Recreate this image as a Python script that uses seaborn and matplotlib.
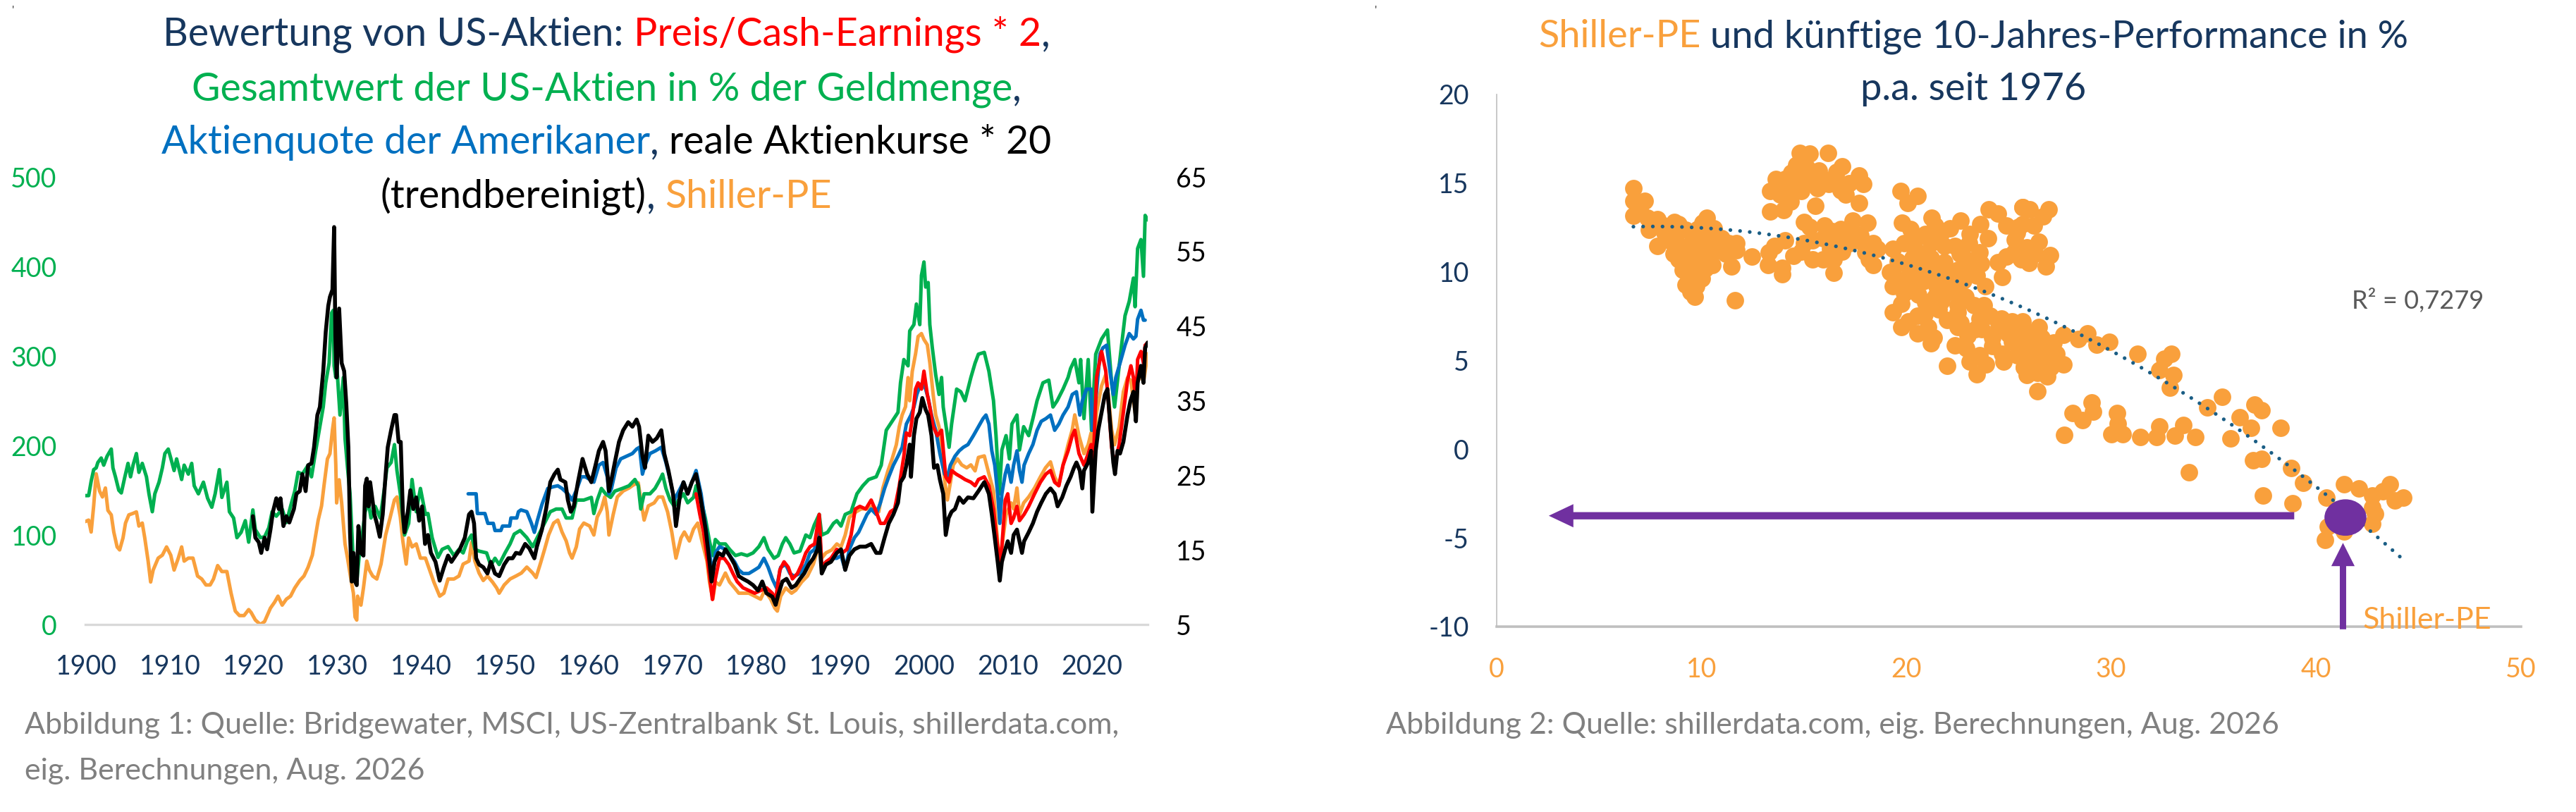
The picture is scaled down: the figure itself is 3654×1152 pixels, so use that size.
import numpy as np
import matplotlib
matplotlib.use("Agg")
import matplotlib.pyplot as plt
from matplotlib.patches import Ellipse
import seaborn as sns

sns.set_theme(style="white")
plt.rcParams['font.family'] = ['Lato', 'DejaVu Sans']
plt.rcParams['axes.unicode_minus'] = False

NAVY = '#17375E'
RED = '#FF0000'
GREEN = '#00B050'
BLUE = '#0070C0'
ORANGE = '#F9A03C'
PURPLE = '#7030A0'
TEAL = '#1B5E85'
GREY = '#808080'

# --- Abbildung 1: Bewertungskennzahlen (linke Achse 0-500, Shiller-PE rechte Achse 5-65) ---
green_years = [1899.9, 1900.3, 1900.6, 1900.9, 1901.2, 1901.4, 1901.8, 1902.1, 1902.5, 1903.0, 1903.2, 1903.5,
               1903.9, 1904.2, 1904.6, 1905.0, 1905.3, 1905.6, 1906.0, 1906.3, 1906.7, 1907.2, 1907.5, 1907.9,
               1908.2, 1908.7, 1909.1, 1909.4, 1909.8, 1910.1, 1910.5, 1910.8, 1911.4, 1911.7, 1912.2, 1912.6,
               1912.9, 1913.4, 1914.0, 1914.5, 1915.0, 1915.4, 1915.9, 1916.2, 1916.8, 1917.1, 1917.6, 1918.0,
               1918.5, 1919.0, 1919.4, 1919.9, 1920.2, 1920.8, 1921.3, 1921.8, 1922.2, 1922.7, 1923.4, 1923.9,
               1924.4, 1924.9, 1925.3, 1925.8, 1926.5, 1926.9, 1927.4, 1927.9, 1928.3, 1928.6, 1929.0, 1929.3,
               1929.5, 1929.6, 1929.8, 1929.9, 1930.3, 1930.7, 1930.9, 1931.2, 1931.5, 1931.9, 1932.3, 1932.6,
               1933.0, 1933.3, 1933.7, 1934.0, 1934.5, 1935.1, 1935.6, 1935.9, 1936.4, 1936.8, 1937.1, 1937.5,
               1938.0, 1938.5, 1938.9, 1939.4, 1939.9, 1940.5, 1940.8, 1941.3, 1942.0, 1942.5, 1943.2, 1943.9,
               1944.5, 1945.0, 1945.5, 1946.0, 1946.4, 1946.9, 1947.8, 1948.3, 1948.8, 1949.3, 1950.0, 1950.6,
               1951.1, 1951.8, 1952.6, 1953.3, 1954.0, 1954.7, 1955.4, 1956.1, 1956.8, 1957.3, 1958.0, 1958.5,
               1959.4, 1960.3, 1960.6, 1961.0, 1961.5, 1962.0, 1962.6, 1963.1, 1964.0, 1964.8, 1965.5, 1965.9,
               1966.2, 1966.6, 1967.3, 1967.9, 1968.5, 1968.8, 1969.2, 1969.7, 1970.2, 1970.7, 1971.3, 1971.8,
               1972.5, 1972.8, 1973.4, 1973.9, 1974.4, 1974.8, 1975.1, 1975.6, 1976.3, 1976.8, 1977.5, 1978.2,
               1978.9, 1979.6, 1980.3, 1980.9, 1981.4, 1982.1, 1982.6, 1983.1, 1983.5, 1984.0, 1984.5, 1985.2,
               1985.9, 1986.4, 1986.9, 1987.5, 1987.8, 1988.5, 1989.2, 1989.6, 1990.1, 1990.6, 1991.3, 1992.0,
               1992.7, 1993.4, 1994.3, 1994.9, 1995.5, 1996.2, 1996.9, 1997.2, 1997.6, 1998.1, 1998.3, 1998.8,
               1999.1, 1999.5, 1999.7, 2000.0, 2000.2, 2000.5, 2000.7, 2001.0, 2001.4, 2001.8, 2002.1, 2002.3,
               2002.6, 2003.0, 2003.3, 2003.9, 2004.4, 2004.9, 2005.6, 2006.1, 2006.5, 2007.2, 2007.75, 2008.3,
               2008.6, 2009.0, 2009.3, 2009.8, 2010.2, 2010.5, 2011.1, 2011.4, 2011.9, 2012.5, 2013.0, 2013.5,
               2014.2, 2014.9, 2015.4, 2015.9, 2016.6, 2017.2, 2017.5, 2018.0, 2018.5, 2018.7, 2019.1, 2019.6,
               2020.0, 2020.5, 2021.2, 2021.9, 2022.4, 2022.75, 2023.3, 2024.0, 2024.5, 2025.0, 2025.2, 2025.5,
               2025.9, 2026.2, 2026.4, 2026.7]
green_vals = [144, 144, 160, 173, 175, 181, 186, 178, 188, 196, 175, 165,
              150, 147, 164, 180, 165, 178, 191, 170, 180, 165, 146, 126,
              146, 159, 175, 191, 196, 186, 172, 185, 162, 178, 168, 180,
              155, 146, 159, 141, 131, 146, 173, 142, 159, 126, 119, 97,
              103, 116, 92, 128, 106, 97, 98, 108, 126, 121, 129, 114,
              132, 149, 170, 168, 178, 165, 194, 221, 243, 270, 292, 348,
              351, 289, 276, 292, 234, 276, 208, 175, 146, 67, 48, 77,
              103, 126, 136, 119, 132, 119, 152, 175, 181, 201, 172, 146,
              100, 113, 162, 126, 152, 123, 124, 97, 75, 84, 87, 77,
              84, 80, 93, 100, 84, 82, 80, 66, 74, 67, 80, 90,
              101, 105, 97, 87, 100, 113, 126, 129, 129, 119, 119, 139,
              139, 142, 124, 139, 152, 146, 142, 149, 152, 155, 162, 155,
              129, 146, 146, 152, 162, 168, 152, 139, 132, 139, 146, 136,
              142, 155, 139, 119, 93, 77, 95, 90, 90, 84, 77, 79,
              77, 80, 87, 97, 84, 74, 77, 90, 97, 90, 80, 82,
              100, 97, 111, 123, 100, 103, 113, 116, 110, 123, 126, 146,
              155, 162, 165, 178, 217, 227, 237, 270, 296, 289, 328, 335,
              358, 335, 390, 405, 377, 382, 335, 309, 279, 257, 276, 243,
              224, 198, 224, 263, 260, 250, 276, 292, 302, 304, 283, 250,
              211, 146, 195, 211, 185, 224, 234, 195, 221, 211, 230, 250,
              270, 273, 243, 250, 263, 276, 286, 296, 270, 296, 230, 296,
              217, 302, 319, 329, 270, 243, 289, 345, 361, 387, 355, 420,
              430, 389, 457, 452]

shiller_years = [1899.9, 1900.3, 1900.6, 1900.9, 1901.2, 1901.6, 1901.95, 1902.3, 1902.6, 1903.0, 1903.3, 1903.7,
                 1904.0, 1904.4, 1904.7, 1905.1, 1905.6, 1906.0, 1906.3, 1906.7, 1907.0, 1907.4, 1907.7, 1908.0,
                 1908.6, 1909.1, 1909.6, 1910.1, 1910.5, 1911.0, 1911.4, 1911.7, 1912.2, 1912.75, 1913.3, 1913.8,
                 1914.3, 1914.8, 1915.2, 1915.7, 1916.2, 1916.8, 1917.3, 1917.8, 1918.3, 1918.85, 1919.4, 1919.7,
                 1920.2, 1920.8, 1921.3, 1922.0, 1922.5, 1922.9, 1923.4, 1923.9, 1924.4, 1924.9, 1925.5, 1926.0,
                 1926.5, 1927.0, 1927.4, 1927.7, 1928.1, 1928.4, 1928.8, 1929.1, 1929.4, 1929.6, 1929.8, 1929.9,
                 1930.2, 1930.5, 1930.9, 1931.2, 1931.6, 1931.9, 1932.1, 1932.3, 1932.4, 1932.8, 1933.1, 1933.5,
                 1933.8, 1934.2, 1934.7, 1935.2, 1935.75, 1936.3, 1936.8, 1937.1, 1937.5, 1937.8, 1938.2, 1938.5,
                 1938.9, 1939.4, 1939.9, 1940.5, 1941.0, 1941.5, 1942.2, 1942.7, 1943.2, 1943.9, 1944.5, 1945.0,
                 1945.7, 1946.0, 1946.4, 1946.9, 1947.4, 1947.9, 1948.5, 1949.0, 1949.3, 1949.9, 1950.6, 1951.3,
                 1951.95, 1952.6, 1953.3, 1953.7, 1954.2, 1954.7, 1955.2, 1955.8, 1956.3, 1956.8, 1957.3, 1957.7,
                 1958.0, 1958.5, 1958.9, 1959.4, 1960.1, 1960.6, 1961.0, 1961.5, 1961.9, 1962.2, 1962.4, 1962.9,
                 1963.4, 1964.1, 1964.8, 1965.3, 1965.9, 1966.2, 1966.6, 1967.1, 1967.8, 1968.3, 1968.8, 1969.4,
                 1969.9, 1970.4, 1971.0, 1971.4, 1972.0, 1972.5, 1973.0, 1973.5, 1974.1, 1974.4, 1974.8, 1975.1,
                 1975.6, 1976.3, 1976.8, 1977.4, 1977.9, 1978.4, 1979.1, 1979.8, 1980.5, 1981.0, 1981.7, 1982.2,
                 1982.5, 1982.9, 1983.5, 1984.2, 1984.7, 1985.4, 1986.1, 1986.8, 1987.3, 1987.5, 1987.8, 1988.3,
                 1989.0, 1989.6, 1990.1, 1990.6, 1991.1, 1991.9, 1992.5, 1993.2, 1993.9, 1994.6, 1995.1, 1995.7,
                 1996.2, 1996.7, 1997.05, 1997.4, 1997.8, 1998.1, 1998.3, 1998.6, 1999.0, 1999.3, 1999.7, 2000.0,
                 2000.4, 2000.7, 2001.1, 2001.4, 2001.8, 2002.1, 2002.5, 2002.8, 2003.15, 2003.5, 2004.0, 2004.5,
                 2005.1, 2005.6, 2006.1, 2006.5, 2007.2, 2007.75, 2008.3, 2008.6, 2009.0, 2009.3, 2009.8, 2010.4,
                 2010.7, 2011.1, 2011.4, 2011.9, 2012.5, 2013.2, 2013.9, 2014.5, 2015.1, 2015.6, 2016.1, 2016.6,
                 2017.2, 2017.7, 2018.0, 2018.5, 2019.1, 2019.6, 2019.95, 2020.3, 2020.6, 2021.2, 2021.7, 2022.0,
                 2022.4, 2022.75, 2023.3, 2023.8, 2024.3, 2024.7, 2025.0, 2025.3, 2025.5, 2025.9, 2026.2, 2026.7]
shiller_vals = [18.8, 19.0, 17.4, 20.9, 25.2, 22.9, 22.1, 23.3, 20.3, 19.7, 17.4, 15.4,
                15.0, 16.6, 18.6, 19.7, 19.9, 20.1, 18.2, 18.6, 16.6, 13.5, 10.7, 12.3,
                13.9, 14.3, 15.4, 14.3, 12.3, 13.9, 15.4, 13.5, 13.9, 13.9, 11.5, 11.1,
                10.3, 10.3, 11.1, 12.9, 12.1, 12.1, 9.2, 6.8, 6.2, 6.2, 7.0, 6.6,
                5.6, 5.0, 5.4, 7.2, 8.0, 8.8, 7.6, 8.4, 8.8, 9.9, 10.9, 11.5,
                12.7, 14.3, 17.0, 19.0, 20.9, 23.7, 27.2, 27.9, 31.1, 32.7, 26.4, 21.3,
                24.4, 21.3, 15.8, 13.9, 11.1, 9.2, 6.0, 5.6, 8.8, 7.6, 9.9, 13.5,
                12.3, 11.5, 11.1, 13.1, 17.0, 19.4, 21.7, 22.1, 19.4, 16.2, 13.1, 16.6,
                15.4, 15.8, 13.9, 13.9, 12.3, 10.7, 8.8, 9.2, 11.1, 11.1, 11.5, 13.1,
                13.5, 16.0, 13.5, 11.9, 10.9, 11.5, 10.7, 9.9, 9.2, 10.3, 11.1, 11.5,
                11.9, 12.7, 11.9, 11.3, 13.1, 15.0, 17.0, 18.6, 19.0, 17.4, 16.2, 14.6,
                13.9, 15.4, 17.8, 18.6, 18.2, 17.0, 19.4, 20.5, 22.1, 20.1, 17.0, 19.7,
                22.1, 22.9, 23.3, 23.7, 24.0, 21.7, 19.0, 20.9, 21.3, 22.1, 22.1, 20.1,
                17.4, 13.9, 16.6, 17.4, 16.2, 17.8, 18.6, 16.2, 13.5, 10.7, 8.4, 10.7,
                10.3, 11.9, 10.7, 9.9, 9.2, 9.2, 9.2, 8.8, 8.4, 9.6, 8.4, 7.2,
                6.8, 8.8, 9.9, 9.2, 9.6, 10.7, 11.5, 13.1, 15.0, 17.0, 13.9, 14.6,
                15.0, 15.8, 15.4, 17.0, 19.4, 20.1, 20.5, 20.5, 20.9, 20.1, 23.3, 25.6,
                27.2, 29.1, 31.5, 33.1, 34.2, 38.1, 35.0, 38.9, 41.3, 43.6, 44.0, 43.2,
                42.5, 40.1, 35.8, 33.1, 31.5, 29.1, 24.0, 21.7, 24.0, 26.4, 27.2, 26.4,
                26.0, 26.4, 25.6, 27.4, 27.6, 25.2, 22.9, 18.6, 13.5, 15.4, 19.7, 21.3,
                20.5, 23.3, 19.7, 21.3, 22.1, 23.3, 24.8, 26.0, 26.8, 24.8, 23.7, 26.4,
                29.1, 31.1, 33.1, 30.3, 27.9, 29.1, 30.7, 27.6, 33.4, 37.0, 38.5, 35.8,
                31.1, 29.1, 31.5, 36.2, 38.1, 37.7, 35.0, 32.7, 37.4, 38.9, 37.4, 41.3]

black_years = [1919.9, 1920.2, 1920.6, 1920.9, 1921.3, 1921.6, 1922.0, 1922.3, 1922.7, 1923.0, 1923.2, 1923.55,
               1923.9, 1924.25, 1924.8, 1925.1, 1925.5, 1925.8, 1926.2, 1926.5, 1926.9, 1927.2, 1927.6, 1927.9,
               1928.3, 1928.6, 1928.9, 1929.1, 1929.4, 1929.6, 1929.75, 1929.9, 1930.2, 1930.5, 1930.8, 1931.05,
               1931.3, 1931.5, 1931.7, 1931.9, 1932.1, 1932.3, 1932.5, 1932.8, 1933.1, 1933.3, 1933.5, 1933.7,
               1933.9, 1934.4, 1934.7, 1935.05, 1935.4, 1935.75, 1936.0, 1936.4, 1936.8, 1937.0, 1937.3, 1937.55,
               1937.8, 1938.0, 1938.4, 1938.7, 1939.05, 1939.4, 1939.75, 1940.1, 1940.45, 1940.8, 1941.15, 1941.7,
               1942.2, 1942.7, 1943.2, 1943.6, 1944.1, 1944.6, 1945.2, 1945.7, 1946.0, 1946.3, 1946.55, 1946.9,
               1947.4, 1947.9, 1948.3, 1948.8, 1949.3, 1949.9, 1950.4, 1950.9, 1951.3, 1951.8, 1952.4, 1952.9,
               1953.5, 1953.8, 1954.4, 1954.9, 1955.4, 1955.9, 1956.3, 1956.6, 1957.2, 1957.5, 1957.85, 1958.2,
               1958.7, 1959.25, 1959.8, 1960.3, 1960.8, 1961.2, 1961.7, 1962.0, 1962.4, 1962.7, 1963.1, 1963.6,
               1964.1, 1964.7, 1965.2, 1965.7, 1966.0, 1966.4, 1966.7, 1967.1, 1967.6, 1968.1, 1968.65, 1969.0,
               1969.5, 1970.05, 1970.4, 1970.9, 1971.3, 1971.8, 1972.3, 1972.8, 1973.2, 1973.5, 1973.95, 1974.4,
               1974.65, 1975.0, 1975.45, 1976.0, 1976.3, 1976.8, 1977.4, 1977.9, 1978.4, 1979.0, 1979.6, 1980.2,
               1980.7, 1981.2, 1981.9, 1982.3, 1982.6, 1983.1, 1983.6, 1984.2, 1984.7, 1985.2, 1985.7, 1986.25,
               1986.8, 1987.3, 1987.5, 1987.8, 1988.3, 1988.9, 1989.6, 1990.1, 1990.6, 1991.1, 1991.7, 1992.35,
               1993.05, 1993.7, 1994.3, 1994.8, 1995.3, 1995.8, 1996.35, 1996.9, 1997.2, 1997.6, 1997.9, 1998.3,
               1998.45, 1998.8, 1999.1, 1999.5, 1999.8, 2000.2, 2000.5, 2000.9, 2001.2, 2001.6, 2001.9, 2002.3,
               2002.6, 2002.95, 2003.3, 2003.7, 2004.2, 2004.7, 2005.25, 2005.9, 2006.5, 2007.2, 2007.75, 2008.1,
               2008.45, 2008.8, 2009.05, 2009.3, 2009.7, 2010.0, 2010.4, 2010.7, 2011.1, 2011.4, 2011.7, 2011.95,
               2012.5, 2013.0, 2013.5, 2014.0, 2014.55, 2015.1, 2015.6, 2015.95, 2016.5, 2017.0, 2017.5, 2017.9,
               2018.2, 2018.6, 2018.9, 2019.1, 2019.6, 2019.95, 2020.1, 2020.5, 2020.8, 2021.2, 2021.6, 2021.9,
               2022.2, 2022.6, 2022.8, 2023.1, 2023.4, 2023.8, 2024.3, 2024.65, 2025.0, 2025.3, 2025.5, 2025.9,
               2026.2, 2026.4, 2026.7]
black_vals = [121, 97, 92, 80, 97, 84, 106, 126, 141, 129, 141, 110,
              121, 114, 129, 146, 149, 168, 149, 178, 180, 198, 234, 243,
              283, 327, 356, 366, 374, 444, 322, 276, 353, 292, 283, 247,
              198, 103, 48, 80, 48, 44, 110, 80, 77, 155, 163, 132,
              159, 123, 113, 98, 123, 168, 198, 217, 234, 234, 204, 204,
              126, 103, 126, 150, 129, 142, 116, 132, 90, 100, 80, 70,
              49, 64, 77, 70, 77, 84, 97, 123, 126, 113, 74, 67,
              64, 57, 70, 57, 54, 67, 74, 74, 80, 79, 90, 85,
              74, 87, 106, 129, 159, 168, 173, 162, 159, 139, 126, 132,
              159, 185, 168, 159, 178, 194, 204, 194, 149, 162, 181, 204,
              217, 226, 221, 229, 221, 188, 175, 211, 204, 208, 217, 191,
              172, 146, 110, 146, 159, 146, 159, 168, 149, 132, 106, 70,
              48, 70, 80, 77, 84, 77, 67, 54, 51, 48, 44, 38,
              48, 35, 31, 22, 33, 48, 51, 41, 44, 51, 57, 67,
              74, 84, 97, 57, 67, 70, 80, 84, 61, 77, 84, 87,
              87, 90, 80, 80, 97, 113, 123, 136, 159, 165, 178, 201,
              165, 211, 230, 237, 253, 240, 234, 211, 175, 178, 162, 146,
              100, 119, 126, 129, 142, 136, 142, 141, 149, 159, 146, 123,
              97, 70, 49, 70, 84, 93, 80, 100, 106, 93, 80, 93,
              103, 113, 126, 136, 146, 152, 146, 132, 142, 155, 165, 175,
              181, 172, 152, 172, 181, 194, 126, 194, 217, 237, 257, 263,
              227, 181, 168, 194, 191, 204, 234, 250, 260, 227, 270, 289,
              270, 309, 315]

blue_years = [1945.6, 1946.55, 1946.7, 1947.6, 1947.95, 1948.6, 1948.8, 1949.5, 1949.7, 1950.55, 1950.7, 1951.4,
              1951.6, 1951.9, 1952.6, 1953.15, 1953.5, 1953.85, 1954.4, 1955.1, 1955.8, 1956.3, 1956.8, 1957.5,
              1958.0, 1958.6, 1959.1, 1959.6, 1960.1, 1960.6, 1961.2, 1961.7, 1962.2, 1962.4, 1962.7, 1963.25,
              1963.8, 1964.5, 1965.2, 1965.7, 1966.05, 1966.4, 1966.7, 1967.3, 1967.95, 1968.65, 1969.2, 1969.7,
              1970.2, 1970.75, 1971.3, 1971.8, 1972.3, 1972.8, 1973.4, 1973.9, 1974.4, 1974.8, 1975.1, 1975.6,
              1976.3, 1976.8, 1977.4, 1977.9, 1978.4, 1979.1, 1979.8, 1980.3, 1980.9, 1981.4, 1981.9, 1982.4,
              1982.9, 1983.5, 1984.0, 1984.5, 1985.2, 1985.9, 1986.4, 1986.95, 1987.5, 1987.8, 1988.3, 1988.9,
              1989.6, 1990.1, 1990.6, 1991.1, 1991.7, 1992.2, 1992.7, 1993.2, 1993.7, 1994.3, 1994.8, 1995.3,
              1995.8, 1996.35, 1996.9, 1997.4, 1997.9, 1998.45, 1998.8, 1999.15, 1999.5, 1999.8, 2000.2, 2000.5,
              2000.9, 2001.4, 2001.9, 2002.45, 2002.8, 2003.15, 2003.7, 2004.2, 2004.7, 2005.25, 2005.9, 2006.5,
              2007.05, 2007.4, 2007.75, 2008.1, 2008.45, 2008.8, 2009.05, 2009.3, 2009.7, 2010.0, 2010.4, 2010.7,
              2011.1, 2011.4, 2011.7, 2011.95, 2012.5, 2013.0, 2013.5, 2014.0, 2014.55, 2015.1, 2015.6, 2016.1,
              2016.6, 2017.2, 2017.7, 2018.2, 2018.6, 2018.9, 2019.4, 2019.95, 2020.1, 2020.5, 2021.0, 2021.35,
              2021.8, 2022.2, 2022.6, 2022.9, 2023.4, 2024.0, 2024.5, 2025.0, 2025.3, 2025.5, 2025.9, 2026.2,
              2026.4]
blue_vals = [146, 146, 124, 124, 113, 113, 105, 105, 110, 110, 119, 119,
             126, 128, 126, 113, 103, 116, 134, 152, 154, 155, 152, 146,
             139, 152, 165, 165, 162, 159, 178, 181, 165, 146, 152, 175,
             185, 188, 191, 196, 198, 168, 178, 191, 194, 198, 181, 162,
             139, 149, 159, 146, 159, 172, 146, 113, 80, 54, 80, 87,
             84, 77, 70, 61, 57, 57, 61, 64, 74, 64, 51, 41,
             64, 67, 57, 54, 57, 67, 80, 84, 113, 61, 67, 74,
             74, 77, 61, 84, 97, 103, 113, 123, 129, 123, 136, 152,
             165, 178, 188, 198, 224, 234, 243, 257, 266, 270, 263, 253,
             234, 217, 191, 168, 165, 178, 188, 194, 198, 201, 211, 221,
             230, 234, 224, 194, 178, 146, 113, 146, 168, 178, 159, 178,
             194, 172, 159, 178, 191, 201, 217, 227, 230, 234, 217, 224,
             234, 243, 257, 260, 234, 250, 263, 263, 217, 250, 302, 309,
             312, 283, 257, 276, 292, 312, 325, 319, 322, 341, 351, 340,
             340]

red_years = [1972.8, 1973.25, 1973.7, 1974.2, 1974.75, 1975.1, 1975.6, 1976.15, 1976.7, 1977.2, 1977.7, 1978.4,
             1979.1, 1979.8, 1980.5, 1981.2, 1981.9, 1982.3, 1982.8, 1983.3, 1983.8, 1984.3, 1984.9, 1985.4,
             1985.9, 1986.4, 1986.95, 1987.5, 1987.8, 1988.3, 1988.9, 1989.6, 1990.25, 1990.8, 1991.3, 1991.8,
             1992.35, 1993.05, 1993.7, 1994.3, 1994.8, 1995.3, 1996.0, 1996.5, 1997.05, 1997.6, 1997.9, 1998.3,
             1998.6, 1999.0, 1999.3, 1999.7, 2000.0, 2000.4, 2000.7, 2001.1, 2001.6, 2002.1, 2002.6, 2003.0,
             2003.3, 2003.85, 2004.4, 2004.9, 2005.6, 2006.1, 2006.5, 2007.2, 2007.75, 2008.3, 2008.6, 2009.0,
             2009.3, 2009.7, 2010.0, 2010.4, 2010.7, 2011.1, 2011.4, 2011.95, 2012.5, 2013.2, 2013.9, 2014.55,
             2015.1, 2015.6, 2016.1, 2016.6, 2017.2, 2017.7, 2018.0, 2018.5, 2019.1, 2019.6, 2019.95, 2020.2,
             2020.6, 2021.2, 2021.7, 2022.0, 2022.4, 2022.75, 2023.3, 2023.8, 2024.3, 2024.7, 2025.0, 2025.3,
             2025.5, 2025.9, 2026.2, 2026.4, 2026.7]
red_vals = [146, 123, 103, 70, 28, 51, 74, 74, 67, 57, 48, 41,
            38, 35, 38, 41, 35, 28, 61, 70, 64, 51, 57, 67,
            80, 87, 90, 123, 64, 70, 74, 84, 80, 84, 100, 129,
            132, 129, 139, 126, 113, 113, 126, 129, 155, 188, 214, 211,
            230, 263, 270, 263, 283, 257, 243, 221, 211, 217, 165, 159,
            172, 168, 165, 162, 159, 155, 162, 165, 155, 129, 103, 70,
            87, 139, 146, 113, 119, 132, 116, 123, 132, 146, 159, 168,
            172, 159, 155, 178, 194, 211, 217, 191, 178, 191, 201, 178,
            276, 305, 283, 250, 198, 178, 201, 237, 273, 289, 276, 247,
            296, 305, 292, 312, 315]

# --- Abbildung 2: Shiller-PE vs. kuenftige 10-Jahres-Rendite p.a. ---
pe_ratio = [6.68, 6.68, 7.24, 6.68, 7.38, 7.84, 7.44, 8.03, 8.69, 8.89, 9.22, 10.27, 10.07, 10.6, 7.84,
            8.43, 8.63, 9.09, 9.61, 10.01, 10.54, 10.93, 11.33, 11.72, 11.72, 8.89, 9.48, 10.01, 10.54, 9.09,
            9.75, 10.01, 9.22, 9.75, 9.48, 9.68, 11.46, 12.45, 11.63, 9.3, 9.8, 8.2, 9.9, 10.3,
            8.9, 9.4, 9.9, 10.4, 9.2, 10.8, 11.2, 8.7, 9.5, 10.2, 11.0, 8.3, 7.0, 7.6, 9.8, 10.6,
            14.82, 15.28, 16.17, 14.62, 15.14, 15.74, 16.86, 16.59, 13.63, 14.09, 14.62, 15.14, 15.67, 16.2,
            17.71, 17.91, 13.37, 13.83, 14.35, 14.88, 17.05, 17.71, 13.37, 15.57, 15.01, 15.28, 17.38, 18.11,
            17.78, 16.4, 15.93, 16.72, 17.25, 17.91, 18.37, 15.41, 14.88, 15.41, 15.93, 16.46, 16.46, 16.86,
            18.37, 18.17, 14.09, 13.56, 13.3, 13.24, 13.96, 13.93,
            14.4, 15.5, 16.0, 16.6, 17.2, 14.3, 16.8, 14.0, 16.0, 16.8, 17.4, 16.3, 15.0, 14.5, 18.0, 18.6,
            19.73, 20.08, 20.54, 19.79, 21.24, 22.65, 24.03, 24.49, 25.68, 25.42, 25.68, 20.54, 20.94, 21.73,
            22.12, 23.11, 19.36, 19.89, 20.41, 21.2, 21.86, 22.39, 23.05, 23.57, 23.64, 22.91, 19.36, 20.15,
            20.94, 21.86, 22.52, 23.44, 23.84, 19.36, 20.15, 20.81, 21.47, 22.12, 20.94, 21.73, 22.52, 23.31,
            19.75, 19.36, 22.52, 22.65, 20.54, 21.07, 23.37, 23.7, 23.57, 24.1, 24.63, 25.15, 25.68, 19.75,
            20.54, 21.33, 21.2, 22.39, 22.91, 23.57, 23.11, 23.44, 22.0, 24.69, 25.15, 25.55, 24.76, 25.75,
            25.94, 24.49, 24.89, 24.69, 25.28, 25.62, 25.88,
            19.6, 20.3, 20.7, 21.2, 21.5, 22.0, 21.0, 20.5, 19.8, 21.9, 22.8, 23.1, 22.4, 21.4, 20.6, 22.9,
            23.8, 21.6, 22.0, 20.1, 20.9, 24.5, 24.2, 23.0, 22.5, 25.0, 25.4, 24.2, 23.9, 26.0, 22.6, 24.0,
            24.9, 23.6, 21.4, 20.2, 25.3, 26.3, 26.0, 19.2, 19.9,
            25.69, 26.02, 26.94, 26.68, 25.49, 26.22, 26.48, 25.89, 25.56, 27.01, 26.81,
            25.62, 26.48, 25.62, 26.15, 26.81, 27.33, 27.66, 27.07, 26.41, 25.76, 26.41, 27.66, 28.39, 28.85,
            25.9, 26.6, 27.2, 26.0, 26.6, 27.3, 25.9, 26.9,
            29.31, 29.9, 31.29, 32.6, 32.93, 32.34, 33.06, 32.87, 34.71, 35.43, 36.29, 37.01, 37.34, 36.82,
            38.26, 35.83, 28.13, 28.59, 29.05, 29.11, 27.7, 30.3, 30.34, 30.03, 30.56, 31.42, 32.21, 32.34,
            33.13, 33.52, 34.12, 33.79, 36.95, 37.34, 38.79, 39.38, 37.41, 38.86, 40.5, 41.36, 42.08, 42.74,
            43.27, 43.6, 43.86, 44.26, 42.74, 42.87, 42.74, 40.57, 40.44, 41.36]
future_return = [14.72, 14.01, 14.01, 13.16, 13.05, 12.98, 12.37, 12.67, 12.82, 12.67, 12.37, 13.05, 12.75, 12.44, 11.46,
                 11.76, 11.0, 11.31, 11.61, 11.31, 11.61, 11.61, 11.61, 11.61, 11.23, 10.7, 10.55, 10.7, 10.39, 10.09,
                 9.94, 9.63, 9.26, 9.18, 8.88, 8.6, 10.32, 10.85, 8.39, 11.0, 10.9, 12.2, 12.0, 11.8,
                 11.5, 11.5, 11.6, 11.2, 10.9, 11.2, 11.0, 11.9, 10.2, 10.2, 11.9, 12.5, 13.6, 12.7, 12.4, 12.0,
                 16.7, 16.65, 16.7, 16.01, 15.86, 15.71, 15.94, 15.63, 15.25, 15.25, 15.41, 15.1, 14.72, 14.95,
                 15.41, 14.95, 14.57, 14.34, 13.96, 14.57, 14.34, 13.89, 13.4, 13.74, 12.82, 12.52, 12.9, 12.75,
                 12.07, 12.29, 11.91, 11.76, 11.61, 11.61, 11.61, 11.76, 11.15, 10.7, 10.7, 10.7, 9.94, 11.15,
                 10.39, 10.7, 11.76, 11.46, 11.08, 10.39, 10.24, 9.86,
                 15.6, 15.3, 15.2, 15.2, 15.0, 14.8, 14.6, 13.5, 12.6, 12.4, 12.3, 11.3, 11.6, 10.9, 11.1, 11.3,
                 14.57, 13.89, 14.27, 12.75, 13.05, 12.9, 13.51, 13.28, 13.66, 12.22, 12.67, 11.99, 12.14, 12.22,
                 12.44, 12.14, 11.31, 11.61, 11.31, 11.61, 11.46, 11.46, 11.61, 11.08, 10.47, 10.7, 9.94, 10.24,
                 10.39, 10.55, 10.09, 9.79, 9.18, 9.18, 9.18, 9.48, 9.18, 8.88, 8.27, 8.34, 8.12, 8.12,
                 8.19, 7.74, 7.74, 7.13, 7.51, 6.9, 6.75, 6.75, 7.36, 7.51, 7.36, 7.21, 7.21, 6.9,
                 6.52, 6.29, 5.99, 5.84, 5.69, 5.31, 4.93, 4.24, 4.7, 5.38, 6.07, 5.84, 4.93, 4.62,
                 5.38, 10.55, 10.85, 9.71, 11.08, 10.7, 11.38,
                 10.6, 10.8, 11.0, 10.8, 10.0, 10.0, 9.9, 9.7, 9.5, 9.6, 9.5, 10.3, 9.2, 8.6, 8.7, 8.6,
                 8.1, 7.9, 7.3, 7.2, 7.6, 6.9, 6.3, 6.4, 6.9, 6.5, 5.3, 5.8, 4.8, 5.1, 11.0, 11.9,
                 12.6, 12.7, 12.6, 12.4, 11.8, 11.0, 10.5, 10.0, 8.8,
                 13.66, 13.51, 13.51, 13.13, 12.52, 12.6, 11.69, 11.31, 10.77, 10.93, 10.32,
                 7.05, 6.9, 6.29, 5.84, 5.69, 5.38, 4.78, 4.62, 4.32, 4.62, 3.26, 6.45, 6.22, 6.52,
                 6.6, 6.3, 6.0, 5.3, 5.1, 4.9, 4.2, 4.1,
                 5.91, 6.07, 5.38, 5.08, 5.38, 4.47, 4.17, 3.48, 2.35, 2.95, 1.81, 2.5, 2.2, 1.21,
                 1.21, 0.6, 2.04, 1.66, 2.65, 2.12, 0.8, 2.04, 1.43, 0.83, 0.83, 0.68, 0.68, 1.28,
                 0.75, 1.36, 0.68, -1.3, -0.62, -0.54, -1.07, -1.91, -2.59, -3.05, -2.74, -1.98, -2.21, -2.59,
                 -2.36, -1.98, -2.89, -2.74, -3.27, -3.65, -4.18, -4.34, -5.1, -4.64]

current_pe = 41.44
current_return = -3.85


def colored_line(fig, x_center, y, parts, size):
    # draw text pieces in different colours next to each other, centred on x_center
    renderer = fig.canvas.get_renderer()
    W = fig.bbox.width
    p1 = fig.text(0, 0, "x x", fontsize=size)
    p2 = fig.text(0, 0, "xx", fontsize=size)
    space = p1.get_window_extent(renderer).width - p2.get_window_extent(renderer).width
    p1.remove()
    p2.remove()
    items = []
    for s, c in parts:
        gap = space if s.startswith(" ") else 0
        t = fig.text(0, y, s.strip(), color=c, fontsize=size, va='baseline', ha='left')
        items.append((t, t.get_window_extent(renderer).width, gap))
    total = sum(w + g for _, w, g in items)
    x = x_center * W - total / 2
    for t, w, g in items:
        x += g
        t.set_x(x / W)
        x += w


fig = plt.figure(figsize=(36.55, 11.52), dpi=100)
fig.canvas.draw()

# ---------------- Abbildung 1 ----------------
ax1 = fig.add_axes([0.0331, 0.2309, 0.4123, 0.5512])
ax1r = ax1.twinx()
ax1.set_zorder(ax1r.get_zorder() + 1)
ax1.patch.set_visible(False)

sns.lineplot(x=shiller_years, y=shiller_vals, ax=ax1r, color=ORANGE, linewidth=3.6, sort=False)
sns.lineplot(x=green_years, y=green_vals, ax=ax1, color=GREEN, linewidth=3.6, sort=False)
sns.lineplot(x=blue_years, y=blue_vals, ax=ax1, color=BLUE, linewidth=3.6, sort=False)
sns.lineplot(x=red_years, y=red_vals, ax=ax1, color=RED, linewidth=3.6, sort=False)
sns.lineplot(x=black_years, y=black_vals, ax=ax1, color='black', linewidth=4.0, sort=False)

ax1.set_xlim(1899.9, 2026.7)
ax1.set_ylim(0, 500)
ax1r.set_ylim(5, 65)
ax1.set_xticks(range(1900, 2021, 10))
ax1.set_yticks(range(0, 501, 100))
ax1r.set_yticks(range(5, 66, 10))
for a in (ax1, ax1r):
    for s in a.spines.values():
        s.set_visible(False)
    a.set_xlabel('')
    a.set_ylabel('')
ax1.spines['bottom'].set_visible(True)
ax1.spines['bottom'].set_color('#D9D9D9')
ax1.spines['bottom'].set_linewidth(2.4)
ax1.tick_params(axis='x', length=0, labelsize=27, labelcolor=NAVY, pad=30)
ax1.tick_params(axis='y', length=0, labelsize=27, labelcolor=GREEN, pad=29)
ax1r.tick_params(axis='y', length=0, labelsize=27, labelcolor='black', pad=29)

colored_line(fig, 0.2353, 0.9436, [("Bewertung von US-Aktien:", NAVY), (" Preis/Cash-Earnings * 2", RED),
                                   (",", NAVY)], 40)
colored_line(fig, 0.2353, 0.8767, [("Gesamtwert der US-Aktien in % der Geldmenge", GREEN), (",", NAVY)], 40)
colored_line(fig, 0.2353, 0.8108, [("Aktienquote der Amerikaner", BLUE), (",", NAVY),
                                   (" reale Aktienkurse * 20", 'black')], 40)
colored_line(fig, 0.2353, 0.7439, [("(trendbereinigt)", 'black'), (",", NAVY), (" Shiller-PE", ORANGE)], 40)

fig.text(0.0096, 0.0964, "Abbildung 1: Quelle: Bridgewater, MSCI, US-Zentralbank St. Louis, shillerdata.com,",
         fontsize=31, color=GREY, va='baseline')
fig.text(0.0096, 0.0399, "eig. Berechnungen, Aug. 2026", fontsize=31, color=GREY, va='baseline')

# ---------------- Abbildung 2 ----------------
ax2 = fig.add_axes([0.5808, 0.2283, 0.3975, 0.6554])
sns.scatterplot(x=pe_ratio, y=future_return, ax=ax2, s=320, color=ORANGE, linewidth=0, zorder=2)

coef = np.polyfit(pe_ratio, future_return, 2)
xs = np.linspace(min(pe_ratio), max(pe_ratio), 200)
ax2.plot(xs, np.polyval(coef, xs), color=TEAL, linewidth=3.8, linestyle=(0, (0.01, 2.6)),
         dash_capstyle='round', zorder=3)

ax2.add_patch(Ellipse((current_pe, current_return), 2.0, 2.0, color=PURPLE, zorder=5))
ax2.arrow(current_pe - 2.5, current_return + 0.1, 2.55 - (current_pe - 2.5), 0, width=0.41,
          head_width=1.31, head_length=1.2, length_includes_head=True, color=PURPLE, lw=0, zorder=4)
ax2.arrow(current_pe - 0.12, -10.15, 0, (current_return - 1.43) + 10.15, width=0.31,
          head_width=1.14, head_length=1.31, length_includes_head=True, color=PURPLE, lw=0,
          zorder=4, clip_on=False)

ax2.set_xlim(0, 50)
ax2.set_ylim(-10, 20)
ax2.set_xticks(range(0, 51, 10))
ax2.set_yticks(range(-10, 21, 5))
ax2.spines['top'].set_visible(False)
ax2.spines['right'].set_visible(False)
ax2.spines['left'].set_color('#BFBFBF')
ax2.spines['left'].set_linewidth(1.2)
ax2.spines['bottom'].set_color('#BFBFBF')
ax2.spines['bottom'].set_linewidth(2.6)
ax2.tick_params(axis='x', length=0, labelsize=27, labelcolor=ORANGE, pad=31)
ax2.tick_params(axis='y', length=0, labelsize=27, labelcolor=NAVY, pad=28)

colored_line(fig, 0.7658, 0.9418, [("Shiller-PE", ORANGE), (" und künftige 10-Jahres-Performance in %", NAVY)], 39)
colored_line(fig, 0.7658, 0.8767, [("p.a. seit 1976", NAVY)], 39)

fig.text(0.9127, 0.6198, "R² = 0,7279", fontsize=26, color='#595959', va='baseline')
fig.text(0.9171, 0.2257, "Shiller-PE", fontsize=31, color=ORANGE, va='baseline')
fig.text(0.538, 0.0964, "Abbildung 2: Quelle: shillerdata.com, eig. Berechnungen, Aug. 2026",
         fontsize=31, color=GREY, va='baseline')

fig.text(0.0047, 0.982, "'", fontsize=12, color='#404040')
fig.text(0.5335, 0.982, "'", fontsize=12, color='#404040')

fig.savefig("out.png", dpi=100)
